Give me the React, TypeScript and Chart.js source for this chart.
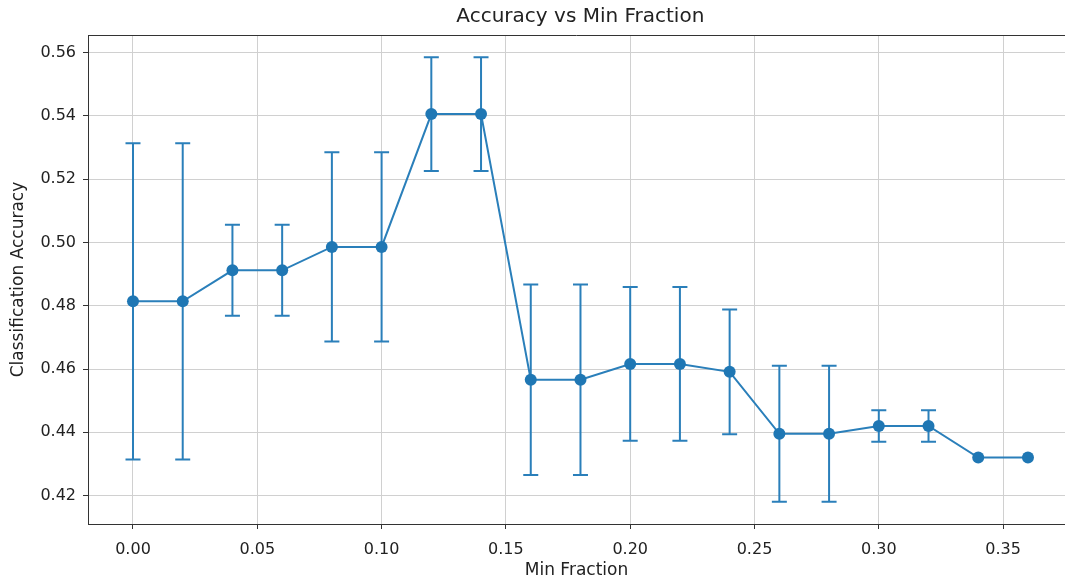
import React, { useEffect, useRef } from "react";
import { Chart, registerables } from "chart.js";

Chart.register(...registerables);

const minFraction = [0.0, 0.02, 0.04, 0.06, 0.08, 0.1, 0.12, 0.14, 0.16, 0.18, 0.2, 0.22, 0.24, 0.26, 0.28, 0.3, 0.32, 0.34, 0.36];
const accuracy = [0.4814, 0.4814, 0.4912, 0.4912, 0.4986, 0.4986, 0.5406, 0.5406, 0.4566, 0.4566, 0.4616, 0.4616, 0.4591, 0.4395, 0.4395, 0.442, 0.442, 0.432, 0.432];
const accuracyErr = [0.05, 0.05, 0.0144, 0.0144, 0.0299, 0.0299, 0.018, 0.018, 0.0301, 0.0301, 0.0243, 0.0243, 0.0197, 0.0215, 0.0215, 0.005, 0.005, 0.0, 0.0];
const xTicks = [0.0, 0.05, 0.1, 0.15, 0.2, 0.25, 0.3, 0.35];
const yTicks = [0.42, 0.44, 0.46, 0.48, 0.5, 0.52, 0.54, 0.56];
const X_MIN = -0.0181;
const X_MAX_VISIBLE = 0.3749;
const X_MAX_FULL = 0.378;

const TITLE = "Accuracy vs Min Fraction";
const FONT = "'DejaVu Sans', sans-serif";
const LINE_COLOR = "#2a7fba";
const MARKER_COLOR = "#1f77b4";

const errorBarPlugin = {
  id: "errorBars",
  beforeDatasetsDraw(chart: any) {
    const { ctx } = chart;
    const xs = chart.scales.x;
    const ys = chart.scales.y;
    ctx.save();
    ctx.strokeStyle = LINE_COLOR;
    ctx.lineWidth = 2;
    for (let i = 0; i < minFraction.length; i++) {
      const e = accuracyErr[i];
      if (!e) continue;
      const px = xs.getPixelForValue(minFraction[i]);
      const pTop = ys.getPixelForValue(accuracy[i] + e);
      const pBot = ys.getPixelForValue(accuracy[i] - e);
      ctx.beginPath();
      ctx.moveTo(px, pTop);
      ctx.lineTo(px, pBot);
      ctx.moveTo(px - 7.5, pTop);
      ctx.lineTo(px + 7.5, pTop);
      ctx.moveTo(px - 7.5, pBot);
      ctx.lineTo(px + 7.5, pBot);
      ctx.stroke();
    }
    ctx.restore();
  },
  afterDraw(chart: any) {
    const { ctx, chartArea } = chart;
    const xs = chart.scales.x;
    ctx.save();
    ctx.strokeStyle = "#333";
    ctx.lineWidth = 1;
    ctx.beginPath();
    ctx.moveTo(chartArea.left, chartArea.top + 0.5);
    ctx.lineTo(chartArea.right, chartArea.top + 0.5);
    ctx.stroke();
    ctx.fillStyle = "#222";
    ctx.font = `20px ${FONT}`;
    ctx.textAlign = "center";
    ctx.textBaseline = "middle";
    const cx = (chartArea.left + xs.getPixelForValue(X_MAX_FULL)) / 2;
    ctx.fillText(TITLE, cx, 17);
    ctx.restore();
  },
};

export default function App() {
  const ref = useRef<HTMLCanvasElement | null>(null);
  useEffect(() => {
    if (!ref.current) return;
    const chart = new Chart(ref.current, {
      type: "line",
      data: {
        datasets: [
          {
            data: minFraction.map((x, i) => ({ x, y: accuracy[i] })),
            borderColor: LINE_COLOR,
            backgroundColor: MARKER_COLOR,
            pointBackgroundColor: MARKER_COLOR,
            pointBorderColor: MARKER_COLOR,
            borderWidth: 2,
            pointRadius: 6,
            pointBorderWidth: 0,
            tension: 0,
          },
        ],
      },
      options: {
        animation: false,
        responsive: false,
        maintainAspectRatio: false,
        layout: { autoPadding: false, padding: { top: 35, right: 0, left: 0, bottom: 0 } },
        plugins: { legend: { display: false }, tooltip: { enabled: false }, title: { display: false } },
        scales: {
          x: {
            type: "linear",
            min: X_MIN,
            max: X_MAX_VISIBLE,
            afterBuildTicks: (s: any) => {
              s.ticks = xTicks.map((v) => ({ value: v }));
            },
            afterFit: (s: any) => {
              s.height = 57;
              s.paddingLeft = 0;
              s.paddingRight = 0;
            },
            grid: { color: "#d0d0d0", lineWidth: 1, tickLength: 5, tickColor: "#333" },
            border: { display: true, color: "#333", width: 1 },
            ticks: {
              color: "#222",
              font: { family: FONT, size: 16 },
              padding: 11,
              maxRotation: 0,
              autoSkip: false,
              callback: (v: any) => Number(v).toFixed(2),
            },
            title: {
              display: true,
              text: "Min Fraction",
              color: "#222",
              font: { family: FONT, size: 17 },
              padding: { top: 0, bottom: 0 },
            },
          },
          y: {
            type: "linear",
            min: 0.411,
            max: 0.5656,
            afterBuildTicks: (s: any) => {
              s.ticks = yTicks.map((v) => ({ value: v }));
            },
            afterFit: (s: any) => {
              s.width = 88;
              s.paddingTop = 0;
              s.paddingBottom = 0;
            },
            grid: { color: "#d0d0d0", lineWidth: 1, tickLength: 5, tickColor: "#333" },
            border: { display: true, color: "#333", width: 1 },
            ticks: {
              color: "#222",
              font: { family: FONT, size: 16 },
              padding: 7,
              autoSkip: false,
              callback: (v: any) => Number(v).toFixed(2),
            },
            title: {
              display: true,
              text: "Classification Accuracy",
              color: "#222",
              font: { family: FONT, size: 17 },
              padding: { top: 8, bottom: 0 },
            },
          },
        },
      },
      plugins: [errorBarPlugin],
    });
    return () => chart.destroy();
  }, []);

  return (
    <div style={{ position: "fixed", left: 0, top: 0, width: 1065, height: 581, overflow: "hidden", background: "#fff" }}>
      <canvas ref={ref} width={1065} height={581} style={{ width: 1065, height: 581, display: "block" }} />
    </div>
  );
}
